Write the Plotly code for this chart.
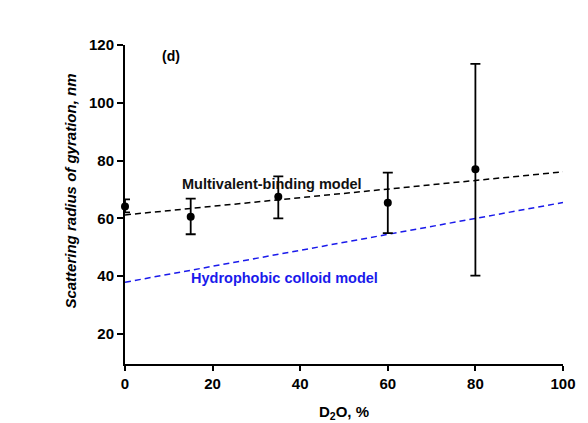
import plotly.graph_objects as go

# Data
d2o = [0, 15, 35, 60, 80]
rg = [64.1, 60.6, 67.5, 65.4, 77.0]
err_plus = [2.5, 6.2, 7.0, 10.4, 36.5]
err_minus = [2.0, 6.1, 7.5, 10.5, 36.8]

model_x = [0, 100]
multivalent_y = [61.2, 76.1]
hydrophobic_y = [37.9, 65.5]

x_ticks = [0, 20, 40, 60, 80, 100]
y_ticks = [20, 40, 60, 80, 100, 120]

FONT = "Arial, Liberation Sans, sans-serif"

fig = go.Figure()

fig.add_trace(go.Scatter(
    x=model_x, y=multivalent_y, mode="lines",
    line=dict(color="black", width=1.5, dash="6px,4px"),
    showlegend=False, hoverinfo="skip"))

fig.add_trace(go.Scatter(
    x=model_x, y=hydrophobic_y, mode="lines",
    line=dict(color="#1a1aeb", width=1.5, dash="6px,4px"),
    showlegend=False, hoverinfo="skip"))

fig.add_trace(go.Scatter(
    x=d2o, y=rg, mode="markers",
    marker=dict(color="black", size=8),
    error_y=dict(type="data", symmetric=False, array=err_plus,
                 arrayminus=err_minus, color="black", thickness=1.8, width=5),
    showlegend=False, cliponaxis=False))

fig.add_annotation(x=7.9, y=116.2, xref="x", yref="y", text="<b>(d)</b>",
                   showarrow=False, xanchor="left", yanchor="middle",
                   font=dict(family=FONT, size=14, color="black"))
fig.add_annotation(x=12.5, y=71.85, xref="x", yref="y",
                   text="<b>Multivalent-binding model</b>",
                   showarrow=False, xanchor="left", yanchor="middle",
                   font=dict(family=FONT, size=14.5, color="#111111"))
fig.add_annotation(x=14.5, y=39.35, xref="x", yref="y",
                   text="<b>Hydrophobic colloid model</b>",
                   showarrow=False, xanchor="left", yanchor="middle",
                   font=dict(family=FONT, size=14.5, color="#1a1aeb"))

fig.add_annotation(x=-0.1245, y=0.542, xref="paper", yref="paper",
                   text="<b><i>Scattering radius of gyration, nm</i></b>",
                   textangle=-90, showarrow=False,
                   xanchor="center", yanchor="middle",
                   font=dict(family=FONT, size=15, color="black"))
fig.add_annotation(x=0.5, y=-0.1535, xref="paper", yref="paper",
                   text="<b>D<sub>2</sub>O, %</b>",
                   showarrow=False, xanchor="center", yanchor="middle",
                   font=dict(family=FONT, size=15, color="black"))

fig.update_xaxes(range=[0, 100], tickvals=x_ticks,
                 showline=True, linecolor="black", linewidth=2,
                 ticks="outside", ticklen=5, tickwidth=2, tickcolor="black",
                 showgrid=False, zeroline=False,
                 tickfont=dict(family=FONT, size=15, color="black", weight="bold"))
fig.update_yaxes(range=[9.6, 120], tickvals=y_ticks,
                 showline=True, linecolor="black", linewidth=2,
                 ticks="outside", ticklen=6, tickwidth=2, tickcolor="black",
                 showgrid=False, zeroline=False,
                 tickfont=dict(family=FONT, size=15, color="black", weight="bold"))

fig.update_layout(
    width=588, height=423,
    margin=dict(l=125, r=21, t=45, b=59),
    paper_bgcolor="white", plot_bgcolor="white",
    font=dict(family=FONT, color="black"),
)

fig.write_html("out.html")
